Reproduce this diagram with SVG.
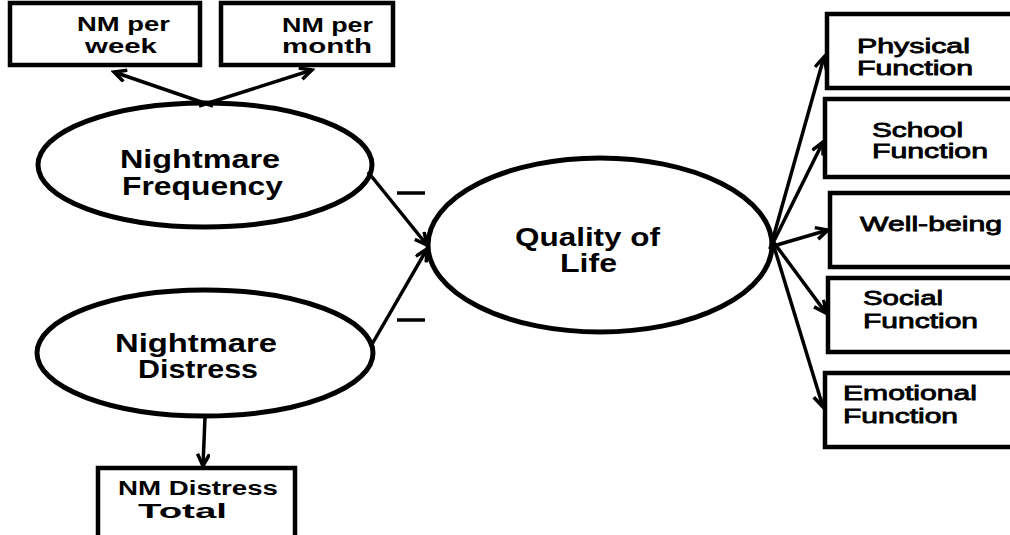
<svg xmlns="http://www.w3.org/2000/svg" width="1010" height="535" viewBox="0 0 1010 535">
<defs>
<style>
.box{fill:#fff;stroke:#000;stroke-width:4.5}
.ell{fill:#fff;stroke:#000;stroke-width:5}
.conn{fill:none;stroke:#000;stroke-width:3.5}
.lb{font-family:"Liberation Sans",Arial,sans-serif;font-weight:bold;fill:#000}
.big{font-size:25px}
.sm{font-size:20px}
.rt{font-family:"Liberation Sans",Arial,sans-serif;font-weight:normal;font-size:20px;fill:#000;stroke:#000;stroke-width:0.8}
</style>
<marker id="ah" markerUnits="userSpaceOnUse" markerWidth="16" markerHeight="16" refX="13" refY="7" orient="auto">
<path d="M1,1 L13,7 L1,13" fill="none" stroke="#000" stroke-width="3.5"/>
</marker>
</defs>
<rect width="1010" height="535" fill="#fff"/>

<g id="nm-per-week">
<rect class="box" x="10" y="3" width="190" height="62"/>
<text class="lb sm" x="77" y="31" textLength="93" lengthAdjust="spacingAndGlyphs">NM per</text>
<text class="lb sm" x="85" y="53" textLength="72" lengthAdjust="spacingAndGlyphs">week</text>
</g>
<g id="nm-per-month">
<rect class="box" x="221" y="3" width="172" height="62"/>
<text class="lb sm" x="282" y="32" textLength="91" lengthAdjust="spacingAndGlyphs">NM per</text>
<text class="lb sm" x="282" y="53" textLength="90" lengthAdjust="spacingAndGlyphs">month</text>
</g>

<g id="nightmare-frequency">
<ellipse class="ell" cx="205" cy="165" rx="167" ry="62"/>
<text class="lb big" x="120" y="168" textLength="160" lengthAdjust="spacingAndGlyphs">Nightmare</text>
<text class="lb big" x="122" y="195" textLength="161" lengthAdjust="spacingAndGlyphs">Frequency</text>
</g>
<g id="nightmare-distress">
<ellipse class="ell" cx="205" cy="353" rx="168" ry="63"/>
<text class="lb big" x="115" y="352" textLength="162" lengthAdjust="spacingAndGlyphs">Nightmare</text>
<text class="lb big" x="138" y="378" textLength="120" lengthAdjust="spacingAndGlyphs">Distress</text>
</g>
<g id="nm-distress-total">
<rect class="box" x="98" y="468" width="197" height="80"/>
<text class="lb sm" x="118" y="495" textLength="160" lengthAdjust="spacingAndGlyphs">NM Distress</text>
<text class="lb sm" x="138" y="518" textLength="89" lengthAdjust="spacingAndGlyphs">Total</text>
</g>
<g id="quality-of-life">
<ellipse class="ell" cx="600" cy="245" rx="172" ry="87"/>
<text class="lb big" x="515" y="246" textLength="145" lengthAdjust="spacingAndGlyphs">Quality of</text>
<text class="lb big" x="560" y="272" textLength="57" lengthAdjust="spacingAndGlyphs">Life</text>
</g>

<g id="physical-function">
<rect class="box" x="827" y="14" width="200" height="74"/>
<text class="rt" x="857" y="53" textLength="113" lengthAdjust="spacingAndGlyphs">Physical</text>
<text class="rt" x="857" y="75" textLength="116" lengthAdjust="spacingAndGlyphs">Function</text>
</g>
<g id="school-function">
<rect class="box" x="825" y="99" width="200" height="78"/>
<text class="rt" x="872" y="137" textLength="91" lengthAdjust="spacingAndGlyphs">School</text>
<text class="rt" x="872" y="158" textLength="116" lengthAdjust="spacingAndGlyphs">Function</text>
</g>
<g id="well-being">
<rect class="box" x="830" y="193" width="200" height="74"/>
<text class="rt" x="860" y="231" textLength="142" lengthAdjust="spacingAndGlyphs">Well-being</text>
</g>
<g id="social-function">
<rect class="box" x="828" y="278" width="200" height="74"/>
<text class="rt" x="863" y="305" textLength="80" lengthAdjust="spacingAndGlyphs">Social</text>
<text class="rt" x="863" y="328" textLength="115" lengthAdjust="spacingAndGlyphs">Function</text>
</g>
<g id="emotional-function">
<rect class="box" x="825" y="373" width="200" height="74"/>
<text class="rt" x="843" y="400" textLength="134" lengthAdjust="spacingAndGlyphs">Emotional</text>
<text class="rt" x="843" y="423" textLength="115" lengthAdjust="spacingAndGlyphs">Function</text>
</g>

<g id="connectors">
<line class="conn" x1="213" y1="106" x2="114" y2="72" marker-end="url(#ah)"/>
<line class="conn" x1="199" y1="106" x2="312" y2="70" marker-end="url(#ah)"/>
<line class="conn" x1="368" y1="172" x2="427" y2="245" marker-end="url(#ah)"/>
<line class="conn" x1="371" y1="346" x2="427" y2="249" marker-end="url(#ah)"/>
<line class="conn" x1="205" y1="417" x2="203" y2="466" marker-end="url(#ah)"/>
<line class="conn" x1="770" y1="249" x2="824" y2="57" marker-end="url(#ah)"/>
<line class="conn" x1="770" y1="249" x2="823" y2="142" marker-end="url(#ah)"/>
<line class="conn" x1="770" y1="247" x2="828" y2="230" marker-end="url(#ah)"/>
<line class="conn" x1="772" y1="240" x2="826" y2="313" marker-end="url(#ah)"/>
<line class="conn" x1="772" y1="240" x2="823" y2="407" marker-end="url(#ah)"/>
<line class="conn" x1="397" y1="193" x2="425" y2="193"/>
<line class="conn" x1="397" y1="320" x2="425" y2="320"/>
</g>
</svg>
